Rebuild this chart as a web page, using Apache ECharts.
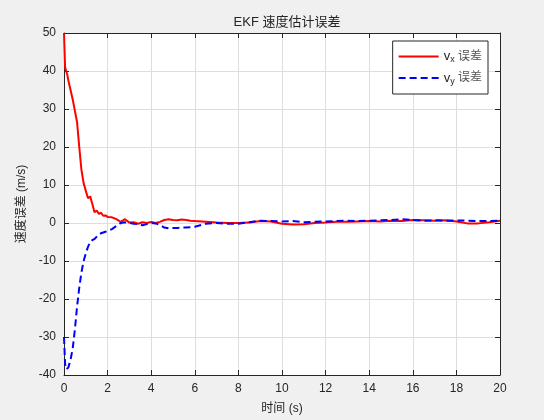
<!DOCTYPE html>
<html>
<head>
<meta charset="utf-8">
<script src="https://cdn.jsdelivr.net/npm/echarts@6/dist/echarts.min.js"></script>
<style>
html,body{margin:0;padding:0;background:#f0f0f0;}
#c{width:544px;height:420px;}
</style>
</head>
<body>
<div id="c"></div>
<script>
const times = [0,0.05,0.1,0.15,0.2,0.3,0.4,0.5,0.6,0.7,0.8,0.9,1.0,1.1,1.2,1.3,1.4,1.5,1.6,1.7,1.8,1.9,2.0,2.2,2.4,2.6,2.8,3.0,3.2,3.4,3.6,3.8,4.0,4.2,4.4,4.6,4.8,5.0,5.2,5.4,5.6,5.8,6.0,6.5,7.0,7.5,8.0,8.5,9.0,9.5,10.0,10.5,11.0,11.5,12.0,12.5,13.0,13.5,14.0,14.5,15.0,15.5,16.0,16.5,17.0,17.5,18.0,18.5,19.0,19.5,20.0];
const vxErr = [50,41,40,39,37.5,35,32.5,29.5,26.5,20,14,10.5,8.5,6.5,7.0,5.0,2.8,3.3,2.4,2.7,1.9,2.0,1.6,1.5,1.0,0.3,1.0,0.1,0.2,-0.2,0.2,0.0,0.3,0.0,0.3,0.8,1.0,0.8,0.7,0.9,0.8,0.6,0.5,0.3,0.1,0.0,0.0,0.1,0.5,0.4,-0.2,-0.4,-0.3,0.0,0.1,0.3,0.3,0.4,0.5,0.4,0.6,0.5,0.8,0.7,0.6,0.7,0.4,-0.1,-0.1,0.2,0.6];
const vyErr = [-30,-37,-38.5,-39,-38,-36,-33,-28,-22,-17,-13,-10,-8,-6.3,-5,-4.5,-4.2,-3.6,-3.0,-2.7,-2.5,-2.3,-2.1,-1.6,-0.8,0.0,0.2,0.0,-0.2,-0.3,-0.6,-0.3,0.0,-0.1,-0.5,-1.2,-1.4,-1.3,-1.3,-1.2,-1.2,-1.1,-1.0,-0.2,0.0,-0.2,-0.2,0.2,0.6,0.5,0.4,0.5,0.2,0.3,0.4,0.5,0.6,0.5,0.6,0.7,0.8,1.0,0.8,0.6,0.7,0.6,0.7,0.6,0.5,0.5,0.6];
const xTicks = {min:0, max:20, interval:2};
const yTicks = {min:-40, max:50, interval:10};
const titleText = 'EKF 速度估计误差';
const xName = '时间 (s)';
const yName = '速度误差 (m/s)';
const seriesNames = ['vx', 'vy'];

const font = '"Liberation Sans","Noto Sans CJK SC",sans-serif';
const axCol = '#262626';
const chart = echarts.init(document.getElementById('c'));
const baseAxis = (pos, t, showLabel, name) => ({
  type:'value', position:pos, min:t.min, max:t.max, interval:t.interval,
  axisLine:{show:true, onZero:false, lineStyle:{color:axCol, width:1}},
  axisTick:{show:true, inside:true, length:5, lineStyle:{color:axCol}},
  axisLabel:{show:showLabel, color:axCol, fontSize:12, fontFamily:font, margin:8},
  splitLine:{show:showLabel, lineStyle:{color:'#dedede', width:1}},
  name: name || '', nameLocation:'middle',
  nameTextStyle:{color:axCol, fontSize:12, fontFamily:font}
});
const xa0 = baseAxis('bottom', xTicks, true, xName); xa0.nameGap = 28;
const xa1 = baseAxis('top', xTicks, false);
const ya0 = baseAxis('left', yTicks, true, yName); ya0.nameGap = 29;
const ya1 = baseAxis('right', yTicks, false);

chart.setOption({
  backgroundColor:'#f0f0f0',
  animation:false,
  title:{text:titleText, left:282, top:11, textAlign:'center',
    textStyle:{color:axCol, fontSize:13, fontWeight:'normal', fontFamily:font}},
  grid:{left:64, right:44, top:33, bottom:43, show:true, backgroundColor:'#ffffff', borderWidth:0},
  xAxis:[xa0, xa1],
  yAxis:[ya0, ya1],
  legend:{
    orient:'vertical', right:56, top:41, padding:[9,6,8,5], itemGap:7,
    itemWidth:40, itemHeight:14,
    backgroundColor:'#ffffff', borderColor:axCol, borderWidth:1,
    data:seriesNames,
    itemStyle:{opacity:0},
    formatter:(n)=>'{v|v}{s|' + n.slice(1) + '}{t| 误差}',
    textStyle:{color:axCol, fontFamily:font,
      rich:{v:{fontSize:13, fontFamily:font, color:axCol},
            s:{fontSize:9, fontFamily:font, color:axCol, padding:[7,0,0,0]},
            t:{fontSize:12, fontFamily:font, color:'#555'}}}
  },
  series:[
    {name:seriesNames[0], type:'line', showSymbol:false, symbol:'none',
     data:times.map((t,i)=>[t, vxErr[i]]),
     lineStyle:{color:'#ff0000', width:2}, itemStyle:{color:'#ff0000'}},
    {name:seriesNames[1], type:'line', showSymbol:false, symbol:'none',
     data:times.map((t,i)=>[t, vyErr[i]]),
     lineStyle:{color:'#0000ff', width:2, type:[7,4]}, itemStyle:{color:'#0000ff'}}
  ]
});
</script>
</body>
</html>
